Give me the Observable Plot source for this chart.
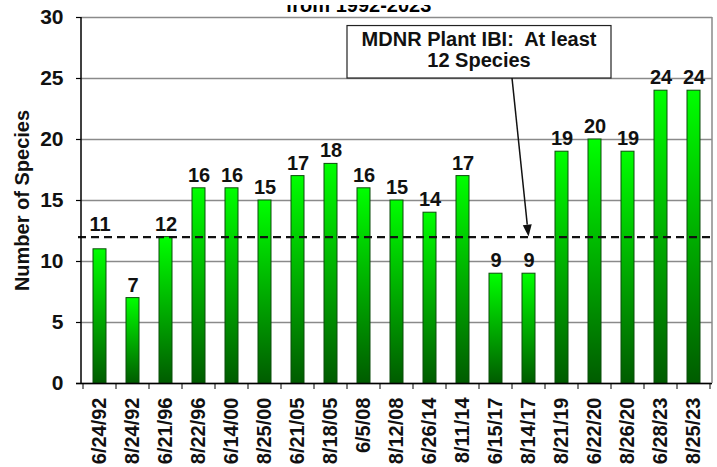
<!DOCTYPE html>
<html><head><meta charset="utf-8">
<script src="https://cdn.jsdelivr.net/npm/d3@7"></script>
<script src="https://cdn.jsdelivr.net/npm/@observablehq/plot@0.6"></script>
<style>
body{margin:0;background:#fff;}
#wrap{position:relative;width:717px;height:467px;overflow:hidden;background:#fff;}
#wrap svg{position:absolute;left:0;top:0;}
#title{position:absolute;left:0;top:5px;width:717px;height:8px;overflow:hidden;}
#title span{position:absolute;left:0;width:717px;top:-10px;text-align:center;font:bold 20px/20px "Liberation Sans",Arial,sans-serif;color:#000;white-space:nowrap;}
</style>
</head><body>
<div id="wrap"><div id="chart"></div><div id="title"><span id="titleText"></span></div></div>
<script>
const titleText = "from 1992-2023";
const dates = ["6/24/92","8/24/92","6/21/96","8/22/96","6/14/00","8/25/00","6/21/05","8/18/05","6/5/08","8/12/08","6/26/14","8/11/14","6/15/17","8/14/17","8/21/19","6/22/20","8/26/20","6/28/23","8/25/23"];
const species = [11,7,12,16,16,15,17,18,16,15,14,17,9,9,19,20,19,24,24];
const target = 12;
const yTicks = [0,5,10,15,20,25,30];
const yLabel = "Number of Species";
const annotationLines = ["MDNR Plant IBI:  At least", "12 Species"];
const annotationTop = 29.3, annotationBottom = 25;
const annotationFrom = "6/5/08", annotationTo = "6/22/20";
const arrowBands = ["6/15/17", "8/14/17"];

document.getElementById("titleText").textContent = titleText;

const data = dates.map((d, i) => ({date: d, value: species[i]}));
// labels whose bars end just under the target line are lifted above that line
const nearLine = d => d.value < target && d.value > target - 1.5;
const font = '"Liberation Sans", Arial, sans-serif';
const labelStyle = {fontSize: 20, fontWeight: "bold", fill: "#111", dy: -13};

const plot = Plot.plot({
  width: 717, height: 467,
  marginLeft: 81, marginRight: 5, marginTop: 17, marginBottom: 84,
  style: {fontFamily: font, background: "white", color: "#000"},
  x: {domain: dates, paddingInner: 0.6, paddingOuter: 0.3, axis: null},
  y: {domain: [0, 30], axis: null},
  marks: [
    Plot.gridY(yTicks, {stroke: "#8a8a8a", strokeWidth: 1.5, strokeOpacity: 1}),
    Plot.barY(data, {x: "date", y: "value", fill: "url(#barGrad)", stroke: "#0b4d0b", strokeWidth: 1}),
    Plot.ruleY([target], {stroke: "#111", strokeWidth: 2.2, strokeDasharray: "8,5", insetLeft: -3}),
    Plot.text(data.filter(d => !nearLine(d)), {x: "date", y: "value", text: "value", ...labelStyle}),
    Plot.text(data.filter(nearLine), {x: "date", y: () => target, text: "value", ...labelStyle}),
    Plot.axisY(yTicks, {tickSize: 5, tickPadding: 13, fontSize: 21, fontWeight: "bold", label: null, stroke: "#000", strokeWidth: 1.2, fill: "#111"}),
    Plot.axisX({tickSize: 0, tickPadding: 14, tickRotate: -90, fontSize: 20, fontWeight: "bold", label: null, fill: "#111"}),
    Plot.ruleY([0], {stroke: "#000", strokeWidth: 1.5, insetLeft: -5}),
    Plot.text([yLabel], {frameAnchor: "left", textAnchor: "middle", rotate: -90, dx: -59, fontSize: 20, fontWeight: "bold", fill: "#111"})
  ]
});
document.getElementById("chart").appendChild(plot);

const svg = d3.select(plot);
const grad = svg.insert("defs", ":first-child").append("linearGradient")
  .attr("id", "barGrad").attr("x1", 0).attr("y1", 0).attr("x2", 0).attr("y2", 1);
grad.append("stop").attr("offset", "0%").attr("stop-color", "#00ff00");
grad.append("stop").attr("offset", "100%").attr("stop-color", "#005c00");

const xs = plot.scale("x"), ys = plot.scale("y");
const bw = xs.bandwidth, step = xs.step;
const half = (step - bw) / 2;
const cx = d => xs.apply(d) + bw / 2;
const left = xs.range[0], right = xs.range[1];
const y0 = ys.apply(0), yTop = ys.apply(30);
const g = svg.append("g");
g.append("line").attr("x1", right).attr("x2", right).attr("y1", yTop).attr("y2", y0).attr("stroke", "#8a8a8a").attr("stroke-width", 1.5);
g.append("line").attr("x1", left).attr("x2", left).attr("y1", yTop).attr("y2", y0 + 0.75).attr("stroke", "#000").attr("stroke-width", 1.5);
for (let i = 0; i <= dates.length; i++) {
  const bx = xs.apply(dates[0]) - half + i * step;
  g.append("line").attr("x1", bx).attr("x2", bx).attr("y1", y0).attr("y2", y0 + 6).attr("stroke", "#000").attr("stroke-width", 1);
}
const bl = xs.apply(annotationFrom) - half, br = xs.apply(annotationTo) + bw + half;
const bt = ys.apply(annotationTop), bb = ys.apply(annotationBottom);
g.append("rect").attr("x", bl).attr("y", bt).attr("width", br - bl).attr("height", bb - bt)
  .attr("fill", "#fff").attr("stroke", "#222").attr("stroke-width", 1.2);
const mid = (bt + bb) / 2, tx = (bl + br) / 2;
const t = g.append("text").attr("text-anchor", "middle").attr("font-family", font).attr("font-size", 20)
  .attr("font-weight", "bold").attr("fill", "#111").style("white-space", "pre").attr("xml:space", "preserve");
t.append("tspan").attr("x", tx).attr("y", mid - 6).text(annotationLines[0]);
t.append("tspan").attr("x", tx).attr("y", mid + 15).text(annotationLines[1]);
const ax1 = (cx(arrowBands[0]) + cx(arrowBands[1])) / 2, ay1 = bb;
const ax2 = cx(arrowBands[1]), ay2 = ys.apply(target);
const ang = Math.atan2(ay2 - ay1, ax2 - ax1);
const hl = 12, hw = 4.5;
const bx2 = ax2 - hl * Math.cos(ang), by2 = ay2 - hl * Math.sin(ang);
g.append("line").attr("x1", ax1).attr("y1", ay1).attr("x2", bx2).attr("y2", by2).attr("stroke", "#111").attr("stroke-width", 1.5);
const px = -Math.sin(ang), py = Math.cos(ang);
g.append("polygon").attr("points", [[ax2, ay2], [bx2 + hw * px, by2 + hw * py], [bx2 - hw * px, by2 - hw * py]].map(p => p.join(",")).join(" "))
  .attr("fill", "#111");
</script>
</body></html>
